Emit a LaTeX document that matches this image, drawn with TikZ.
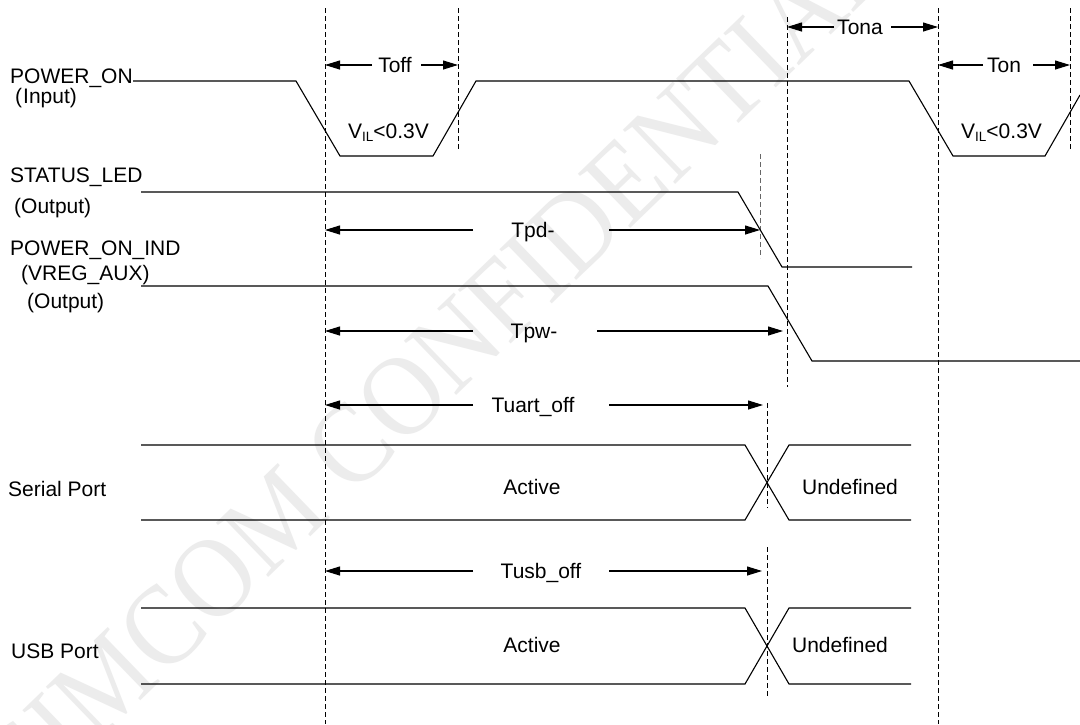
\documentclass[tikz,border=0pt]{standalone}
\usepackage{fontspec}
\setmainfont{Liberation Sans}
\newfontfamily\wmfont{Liberation Serif}
\usetikzlibrary{arrows.meta}
\newcommand{\lblfont}{\fontsize{21}{24}\selectfont}
\newcommand{\VIL}{V\raisebox{-3.5pt}{\fontsize{13.5}{13.5}\selectfont IL}<0.3V}
\begin{document}
\begin{tikzpicture}[x=1pt,y=-1pt,
  sig/.style={line width=1.1pt, line join=miter},
  vdash/.style={line width=1pt, dash pattern=on 5pt off 3pt},
  dim/.style={line width=1.1pt, -{Triangle[length=15pt,width=9pt]}},
  lbl/.style={inner sep=0pt, anchor=base west, font=\lblfont},
  ctr/.style={inner sep=0pt, anchor=base, font=\lblfont},
  wm/.style={inner sep=0pt, rotate=44, text=gray!15, font=\wmfont\fontsize{115}{115}\selectfont}]
\useasboundingbox (0,0) rectangle (1080,724);
\fill[white] (0,0) rectangle (1080,724);

% watermark
\node[wm] (wm) at (438,362) {\scalebox{0.9}[1]{SIMCOM CONFIDENTIAL}};

% timing marks (dashed lines)
\coordinate (D1) at (325,8);   \coordinate (D1e) at (325,724);
\coordinate (D2) at (458,8);   \coordinate (D2e) at (458,150);
\coordinate (D3) at (787,17);  \coordinate (D3e) at (787,387);
\coordinate (D4) at (938,8);   \coordinate (D4e) at (938,724);
\coordinate (D5) at (1070,8);  \coordinate (D5e) at (1070,150);
\coordinate (D6) at (760,154); \coordinate (D6e) at (760,258);
\coordinate (D7) at (767,403); \coordinate (D7e) at (767,508);
\coordinate (D8) at (767,547); \coordinate (D8e) at (767,698);
\draw[vdash] (D1) -- (D1e);
\draw[vdash] (D2) -- (D2e);
\draw[vdash] (D3) -- (D3e);
\draw[vdash] (D4) -- (D4e);
\draw[vdash] (D5) -- (D5e);
\draw[vdash, black!60] (D6) -- (D6e);
\draw[vdash] (D7) -- (D7e);
\draw[vdash] (D8) -- (D8e);

% signal names
\node[lbl] (pon) at (10,83) {POWER\_ON};
\node[lbl] (ponin) at (15,103) {(\kern1pt Input)};
\node[lbl] (sled) at (10,182) {STATUS\_LED};
\node[lbl] (sledout) at (14,213) {(Output)};
\node[lbl] (pind) at (10,255) {POWER\_ON\_IND};
\node[lbl] (pindv) at (21,280) {(VREG\_AUX)};
\node[lbl] (pindout) at (27,308) {(Output)};
\node[lbl] (serial) at (8,496) {Serial Port};
\node[lbl] (usb) at (11,658) {USB Port};

% waveforms
\draw[sig] (133,81) -- (296,81) -- (340,156) -- (433,156) -- (476,81) -- (909,81)
  -- (953,156) -- (1045,156) -- (1080,95);
\node[lbl] (vil1) at (348,138) {\VIL};
\node[lbl] (vil2) at (961,138) {\VIL};
\draw[sig] (141,192) -- (738,192) -- (782,267) -- (912,267);
\draw[sig] (141,286) -- (768,286) -- (812,361) -- (1080,361);
\draw[sig] (141,445) -- (745,445) -- (789,520) -- (911,520);
\draw[sig] (141,520) -- (745,520) -- (789,445) -- (911,445);
\draw[sig] (141,608) -- (745,608) -- (789,684) -- (911,684);
\draw[sig] (141,684) -- (745,684) -- (789,608) -- (911,608);
\node[ctr] (act1) at (532,494) {Active};
\node[ctr] (und1) at (850,494) {Undefined};
\node[ctr] (act2) at (532,652) {Active};
\node[ctr] (und2) at (840,652) {Undefined};

% dimension arrows
\node[ctr] (toff) at (395,72) {Toff};
\coordinate (toffA) at (372,65); \coordinate (toffB) at (421,65);
\draw[dim] (toffA) -- (D1 |- toffA);
\draw[dim] (toffB) -- (D2 |- toffB);

\node[ctr] (tona) at (860,34) {Tona};
\coordinate (tonaA) at (834,27); \coordinate (tonaB) at (891,27);
\draw[dim] (tonaA) -- (D3 |- tonaA);
\draw[dim] (tonaB) -- (D4 |- tonaB);

\node[ctr] (ton) at (1004,72) {Ton};
\coordinate (tonA) at (983,65); \coordinate (tonB) at (1033,65);
\draw[dim] (tonA) -- (D4 |- tonA);
\draw[dim] (tonB) -- (D5 |- tonB);

\node[ctr] (tpd) at (533,237) {Tpd-};
\coordinate (tpdA) at (473,230); \coordinate (tpdB) at (609,230);
\draw[dim] (tpdA) -- (D1 |- tpdA);
\draw[dim] (tpdB) -- (D6 |- tpdB);

\node[ctr] (tpw) at (534,338) {Tpw-};
\coordinate (tpwA) at (473,331); \coordinate (tpwB) at (597,331);
\coordinate (tpwE) at (783,331);
\draw[dim] (tpwA) -- (D1 |- tpwA);
\draw[dim] (tpwB) -- (tpwE);

\node[ctr] (tuart) at (533,412) {Tuart\_off};
\coordinate (tuartA) at (473,405); \coordinate (tuartB) at (609,405);
\coordinate (tuartE) at (763,405);
\draw[dim] (tuartA) -- (D1 |- tuartA);
\draw[dim] (tuartB) -- (tuartE);

\node[ctr] (tusb) at (541,578) {Tusb\_off};
\coordinate (tusbA) at (473,571); \coordinate (tusbB) at (609,571);
\coordinate (tusbE) at (762,571);
\draw[dim] (tusbA) -- (D1 |- tusbA);
\draw[dim] (tusbB) -- (tusbE);
\end{tikzpicture}
\end{document}
